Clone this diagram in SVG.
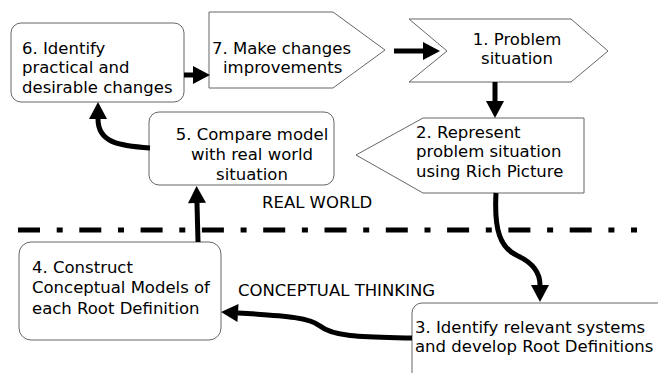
<svg xmlns="http://www.w3.org/2000/svg" width="658" height="373" viewBox="0 0 658 373">
<defs>
<style>
.box{fill:#fff;stroke:#666;stroke-width:1}
.t{font-family:"DejaVu Sans","Verdana",sans-serif;font-size:16.5px;fill:#000}
.c{text-anchor:middle}
.arr{fill:none;stroke:#000;stroke-width:5;marker-end:url(#ah)}
</style>
<marker id="ah" markerUnits="userSpaceOnUse" markerWidth="18" markerHeight="19" refX="0" refY="9" orient="auto" overflow="visible">
<path d="M0,0 L17,9 L0,18 z" fill="#000"/>
</marker>
</defs>
<rect width="658" height="373" fill="#fff"/>
<line x1="18" y1="230" x2="637" y2="230" stroke="#000" stroke-width="5" stroke-dasharray="22 16.7 6 16.6"/>
<g id="node1">
<polygon class="box" points="409,19 571,19 608,51 571,82 409,82 447,51"/>
<text class="t c" x="517" y="45">1. Problem</text>
<text class="t c" x="517" y="64">situation</text>
</g>
<g id="node2">
<polygon class="box" points="423,118 584,118 584,193 423,193 356,155"/>
<text class="t" x="416" y="138">2. Represent</text>
<text class="t" x="416" y="157">problem situation</text>
<text class="t" x="416" y="177">using Rich Picture</text>
</g>
<g id="node3">
<rect class="box" x="412" y="303" width="270" height="100" rx="10"/>
<text class="t" x="415" y="333">3. Identify relevant systems</text>
<text class="t" x="415" y="352">and develop Root Definitions</text>
</g>
<g id="node4">
<rect class="box" x="19" y="242" width="202" height="98" rx="12"/>
<text class="t" x="32" y="273">4. Construct</text>
<text class="t" x="32" y="293">Conceptual Models of</text>
<text class="t" x="32" y="314">each Root Definition</text>
</g>
<g id="node5">
<rect class="box" x="149" y="112" width="185" height="73" rx="10"/>
<text class="t c" x="252" y="140">5. Compare model</text>
<text class="t c" x="252" y="160">with real world</text>
<text class="t c" x="252" y="180">situation</text>
</g>
<g id="node6">
<rect class="box" x="11" y="23" width="173" height="79" rx="10"/>
<text class="t" x="22" y="54">6. Identify</text>
<text class="t" x="22" y="73">practical and</text>
<text class="t" x="22" y="93">desirable changes</text>
</g>
<g id="node7">
<polygon class="box" points="209,12 333,12 385,50 333,88 209,88"/>
<text class="t" x="212" y="54">7. Make changes</text>
<text class="t" x="223" y="73">improvements</text>
</g>
<g id="labels">
<text class="t" x="262" y="208">REAL WORLD</text>
<text class="t" x="238" y="296">CONCEPTUAL THINKING</text>
</g>
<g id="connectors">
<path class="arr" d="M184,75 L193,75"/>
<path class="arr" d="M394,51 L423,51"/>
<path class="arr" d="M495,82 L495,101"/>
<path class="arr" d="M496,193 C494,230 500,248 518,256 C535,264 540,275 540,285"/>
<path class="arr" d="M412,338 C370,337 335,338 320,326 C310,318 290,316 238,313"/>
<path class="arr" d="M198,242 L197,203"/>
<path class="arr" d="M150,148 C118,146 98,142 98,119"/>
</g>
</svg>
